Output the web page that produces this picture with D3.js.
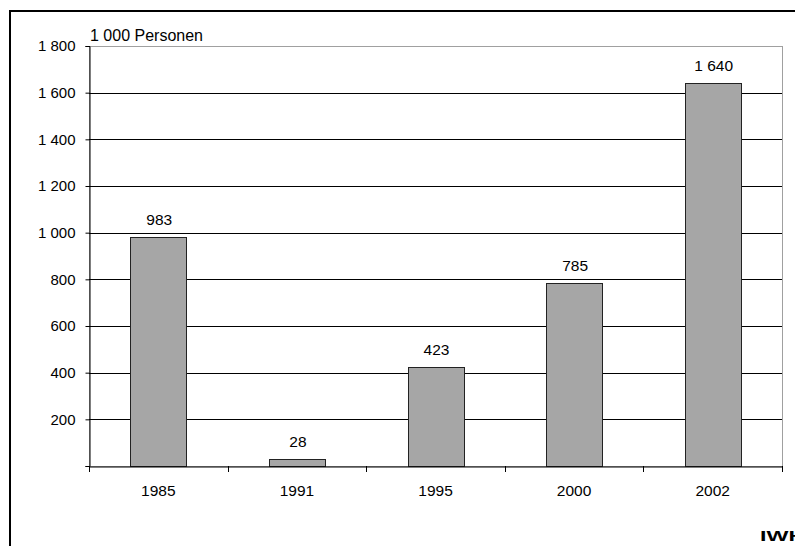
<!DOCTYPE html>
<html>
<head>
<meta charset="utf-8">
<script src="https://cdn.jsdelivr.net/npm/d3@7"></script>
<style>
  html, body { margin: 0; padding: 0; background: #fff; }
  svg { display: block; font-family: "Liberation Sans", Arial, sans-serif; }
</style>
</head>
<body>
<svg id="chart" width="795" height="546"></svg>
<script>
// Zuzüge in 1 000 Personen je Jahr
const years = ["1985", "1991", "1995", "2000", "2002"];
const values = [983, 28, 423, 785, 1640];
const yTicks = [0, 200, 400, 600, 800, 1000, 1200, 1400, 1600, 1800];
const unitLabel = "1 000 Personen";
const sourceLabel = "IWH";

const svg = d3.select("#chart");
const W = 795, H = 546;
const plot = { left: 89, right: 782, top: 46, bottom: 466 };

// German-style thousands separator with a space
const fmt = v => d3.format(",")(v).replace(/,/g, " ");

const x = d3.scaleBand().domain(years).range([plot.left, plot.right]).paddingInner(0.596).paddingOuter(0.298);
const xCat = d3.scaleBand().domain(years).range([plot.left, plot.right]);
const y = d3.scaleLinear().domain([0, 1800]).range([plot.bottom, plot.top]);

// outer frame
svg.append("line").attr("x1", 10).attr("x2", 795).attr("y1", 11).attr("y2", 11)
  .attr("stroke", "#000").attr("stroke-width", 2);
svg.append("line").attr("x1", 10).attr("x2", 10).attr("y1", 10).attr("y2", H)
  .attr("stroke", "#000").attr("stroke-width", 2);

// plot area border (top / right)
svg.append("rect")
  .attr("x", plot.left + 0.5).attr("y", plot.top + 0.5)
  .attr("width", plot.right - plot.left).attr("height", plot.bottom - plot.top)
  .attr("fill", "none").attr("stroke", "#a0a0a0").attr("stroke-width", 1);

// gridlines
svg.append("g").selectAll("line")
  .data(yTicks.filter(t => t > 0 && t < 1800))
  .join("line")
  .attr("x1", plot.left).attr("x2", plot.right)
  .attr("y1", d => Math.round(y(d)) + 0.5).attr("y2", d => Math.round(y(d)) + 0.5)
  .attr("stroke", "#000").attr("stroke-width", 1);

// bars
svg.append("g").selectAll("rect")
  .data(years.map((yr, i) => ({ yr, v: values[i] })))
  .join("rect")
  .attr("x", d => Math.round(x(d.yr)) + 0.5)
  .attr("y", d => Math.round(y(d.v)) + 0.5)
  .attr("width", Math.round(x.bandwidth()))
  .attr("height", d => Math.round(y(0)) - Math.round(y(d.v)))
  .attr("fill", "#a6a6a6")
  .attr("stroke", "#222").attr("stroke-width", 1);

// value labels
svg.append("g").selectAll("text")
  .data(years.map((yr, i) => ({ yr, v: values[i] })))
  .join("text")
  .attr("x", d => x(d.yr) + x.bandwidth() / 2 + 1)
  .attr("y", d => y(d.v) - 12)
  .attr("text-anchor", "middle")
  .attr("font-size", 15.5)
  .attr("fill", "#000")
  .text(d => fmt(d.v));

// y axis
const yAxis = d3.axisLeft(y).tickValues(yTicks).tickSize(4).tickPadding(10)
  .tickFormat(d => d === 0 ? "" : fmt(d));
const gy = svg.append("g").attr("transform", `translate(${plot.left + 0.5},0)`).call(yAxis);
gy.select(".domain").attr("stroke", "#000");
gy.selectAll(".tick line").attr("stroke", "#000");
gy.selectAll(".tick text").attr("font-size", 15).attr("fill", "#000")
  .attr("font-family", "'Liberation Sans', Arial, sans-serif");

// x axis
const xAxis = d3.axisBottom(xCat).tickSize(0).tickPadding(18);
const gx = svg.append("g").attr("transform", `translate(0,${plot.bottom + 0.5})`).call(xAxis);
gx.select(".domain").attr("stroke", "#000");
gx.selectAll(".tick text").attr("font-size", 15.5).attr("fill", "#000")
  .attr("font-family", "'Liberation Sans', Arial, sans-serif");

// category boundary ticks
const bounds = [plot.left].concat(years.map(yr => xCat(yr) + xCat.bandwidth()));
svg.append("g").selectAll("line").data(bounds).join("line")
  .attr("x1", d => Math.round(d) + 0.5).attr("x2", d => Math.round(d) + 0.5)
  .attr("y1", plot.bottom).attr("y2", plot.bottom + 6)
  .attr("stroke", "#000");

// unit label
svg.append("text").attr("x", 90).attr("y", 40.5)
  .attr("font-size", 16).attr("fill", "#000").text(unitLabel);

// source label (wide bold logo type, running off the right edge)
svg.append("text")
  .attr("transform", "translate(760,541) scale(1.5,1)")
  .attr("font-size", 15.5).attr("font-weight", "bold").attr("fill", "#000")
  .text(sourceLabel);
</script>
</body>
</html>
